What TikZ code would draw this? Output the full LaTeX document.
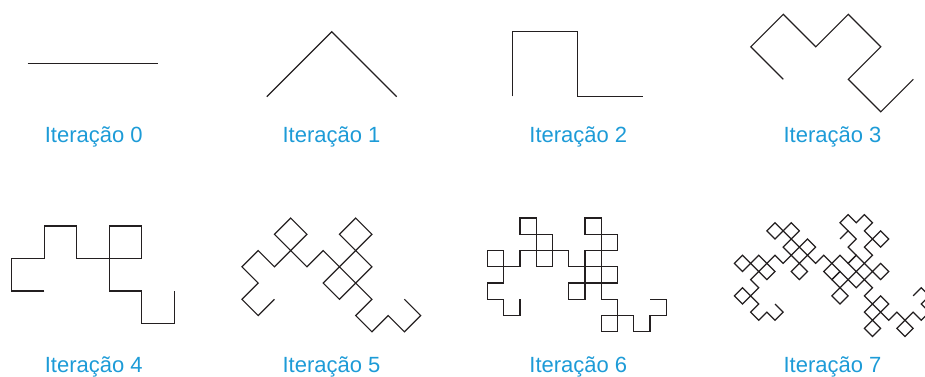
\documentclass[tikz,border=0pt]{standalone}
\usepackage{fontspec}
\setmainfont{Liberation Sans}
\usetikzlibrary{lindenmayersystems}
\pgfdeclarelindenmayersystem{Dragon}{
  \rule{X -> X-YF-}
  \rule{Y -> +FX+Y}
}
\definecolor{capblue}{RGB}{29,155,215}
\definecolor{curveink}{RGB}{35,31,32}
\tikzset{
  curve/.style={draw=curveink, line width=1.2pt},
  caption/.style={text=capblue, font=\fontsize{22}{26}\selectfont, anchor=base, inner sep=0pt},
}
\begin{document}
\begin{tikzpicture}[x=1pt,y=1pt]
\useasboundingbox (0,0) rectangle (925,376);
\clip (0,0) rectangle (925,376);
\coordinate (s0) at (27.7,312.7);
\coordinate (e0) at (158.3,312.7);
\draw[curve] (s0) -- (e0);
\foreach \n/\x/\y/\st in {1/266.7/279.3/91.924, 2/512.7/279.7/65, 3/783.3/296.7/45.962, 4/44.3/85/32.5, 5/274.4/76.7/22.981, 6/520/76.7/16.25}{
  \coordinate (s\n) at (\x,\y);
  \begin{scope}[shift={(s\n)}, rotate=45*\n]
    \draw[curve, lindenmayer system={Dragon, axiom=FX, order=\n, step=\st pt, angle=90}] (0,0) lindenmayer system;
  \end{scope}
}
% iteration 7: first half from the start, second half from the end
\coordinate (s7) at (775,72);
\coordinate (e7) at (913.125,80.125);
\begin{scope}[shift={(s7)}, rotate=315]
  \draw[curve, lindenmayer system={Dragon, axiom=FX, order=6, step=11.490pt, angle=90}] (0,0) lindenmayer system;
\end{scope}
\begin{scope}[shift={(e7)}, rotate=45]
  \draw[curve, lindenmayer system={Dragon, axiom=FX, order=6, step=11.490pt, angle=90}] (0,0) lindenmayer system;
\end{scope}
\node[caption] (c0) at (93.8,233.7) {Iteração 0};
\node[caption] (c1) at (331.5,233.7) {Iteração 1};
\node[caption] (c2) at (578.3,233.7) {Iteração 2};
\node[caption] (c3) at (832.5,233.7) {Iteração 3};
\node[caption] (c4) at (93.8,3.7) {Iteração 4};
\node[caption] (c5) at (331.5,3.7) {Iteração 5};
\node[caption] (c6) at (578.3,3.7) {Iteração 6};
\node[caption] (c7) at (832.5,3.7) {Iteração 7};
\end{tikzpicture}
\end{document}
